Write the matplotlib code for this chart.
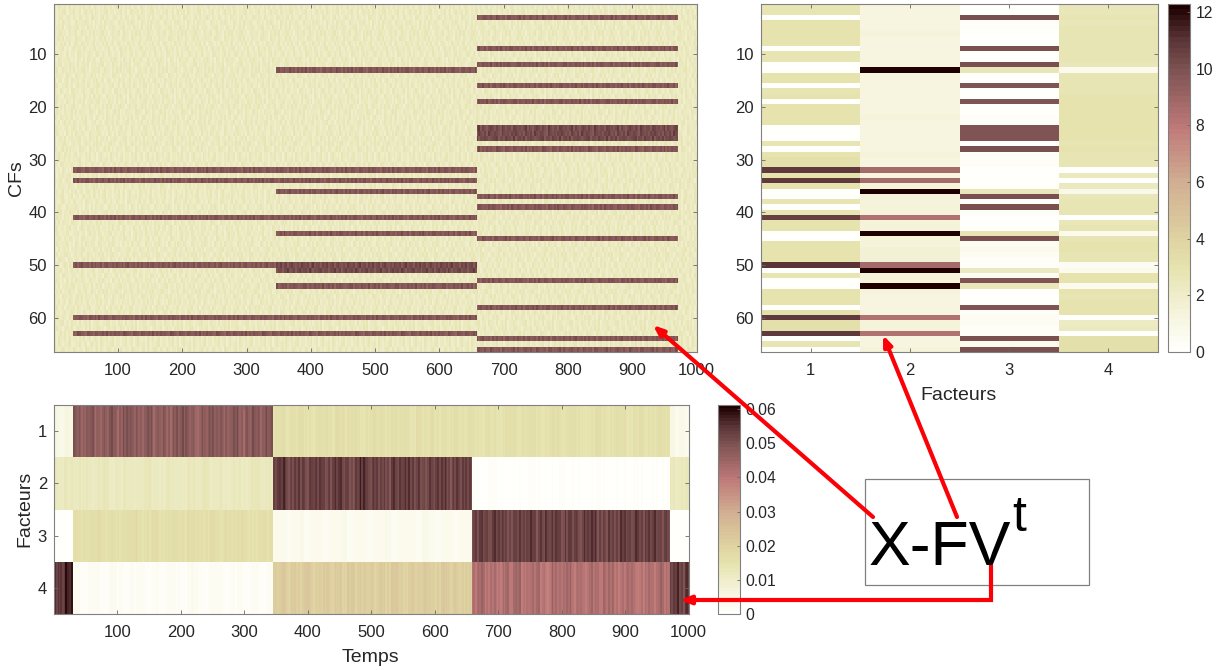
import numpy as np
import matplotlib
matplotlib.use("Agg")
import matplotlib.pyplot as plt
from matplotlib.colors import LinearSegmentedColormap
from matplotlib.patches import Rectangle

plt.rcParams['font.family'] = ['Liberation Sans', 'DejaVu Sans']

W, H = 1224, 670

# factor loadings F (one value per CF, rows 1..66)
factor_1 = [2.8,2.8,0,2.9,2.9,2.9,2.9,3.0,0.05,2.8,2.8,0,0,2.9,2.9,0,2.8,2.9,0,2.9,2.9,2.9,2.9,0,0,0,2.7,0,3.0,3.1,3.1,10.9,2.9,
            10.9,2.9,0,0,2.7,0,2.8,10.7,3.0,3.0,0,0,3.0,3.0,3.0,3.0,11.0,0,2.7,0,0,3.0,3.0,3.0,0,3.1,10.9,3.1,3.1,10.8,0,2.7,0]
factor_2 = [1.2,1.2,1.3,1.3,1.2,1.4,1.2,1.3,1.3,1.2,1.3,1.3,12.3,1.3,1.2,1.3,1.3,1.2,1.3,1.2,1.3,1.4,1.2,1.3,1.2,1.2,1.3,1.3,1.4,1.2,1.2,8.8,1.3,
            8.8,1.4,12.3,1.5,1.5,1.4,1.5,8.3,1.5,1.5,12.3,1.5,1.5,1.6,1.6,1.6,8.8,12.3,1.4,1.5,12.3,1.5,1.3,1.3,1.2,1.2,8.3,1.5,1.5,8.3,1.3,1.2,1.4]
factor_3 = [0,0,10.1,0.2,0.3,0,0,0,10.1,0.1,0.1,10.0,2.6,0.1,0.1,9.8,0,0.1,9.9,0.1,0.1,0.2,0.2,9.9,9.9,9.9,0.1,10.0,0.2,0.3,0.3,0,0.1,
            0,0.1,2.6,10.1,0.3,10.0,0.2,0.1,0.1,0.1,2.7,10.1,0.4,0.7,0.4,0.3,0.2,2.4,0.5,9.8,2.6,0.1,0,0,9.9,0.3,0.4,0.4,0.3,0.3,10.0,0.6,10.0]
factor_4 = [2.6,2.6,2.7,2.6,2.7,2.7,2.8,2.7,2.7,2.8,2.7,2.6,0.7,2.8,2.8,2.7,2.8,2.9,2.9,3.0,2.9,2.9,2.9,2.9,2.9,3.0,2.8,2.9,2.8,2.7,2.7,0,2.4,
            0,2.4,0.8,2.6,2.7,2.7,2.8,0,2.6,2.7,0.7,2.8,2.9,2.9,2.8,2.8,0.4,0.6,2.9,3.0,0.7,2.9,2.8,2.9,2.9,2.9,0,2.3,2.4,0,3.1,3.2,3.1]

# time activations V, in thousandths; 4 + 28 + 32 + 32 + 4 stripes per factor
time_1 = [5,3,7,5,
          48,45,50,43,47,49,44,52,47,46,50,45,48,44,49,51,46,42,47,50,48,45,52,44,47,49,46,50,
          15,17,14,16,18,15,13,17,16,14,18,15,17,16,13,15,18,16,14,17,15,16,13,18,15,17,14,16,15,18,14,16,
          16,14,17,15,13,16,18,14,15,17,16,13,15,18,14,16,17,15,13,16,18,15,14,17,16,13,15,17,14,16,18,15,
          7,3,5,2]
time_2 = [12,11,13,12,
          12,13,11,12,14,10,12,13,11,12,14,12,10,13,12,11,13,12,14,11,12,10,13,12,11,14,12,13,
          52,58,49,51,54,50,53,55,49,52,56,51,48,53,60,50,54,52,49,55,51,57,50,53,48,54,52,56,49,53,51,54,
          1,0,1,2,1,0,1,1,0,2,1,1,0,1,2,0,1,1,0,1,2,1,0,1,1,0,2,1,0,1,1,1,
          13,11,12,13]
time_3 = [0,1,0,1,
          16,15,17,18,15,16,14,17,19,15,16,18,14,16,17,15,18,16,15,19,14,17,16,18,15,14,17,16,
          3,4,2,3,5,2,3,4,2,3,3,5,2,4,3,2,4,3,5,2,3,3,4,2,5,3,2,4,3,2,4,3,
          52,54,50,53,55,51,49,54,52,56,50,53,51,55,49,53,52,50,54,56,51,49,53,52,55,50,54,51,53,56,49,52,
          1,0,0,1]
time_4 = [54,50,57,60,
          2,1,3,2,1,4,2,1,2,3,1,2,1,3,2,1,4,2,1,2,3,1,2,2,1,3,1,2,
          21,24,19,22,20,25,19,21,23,20,22,19,24,20,22,21,19,23,20,25,21,19,22,20,23,21,19,24,20,22,19,21,
          41,46,39,43,37,44,40,47,38,42,45,39,36,44,41,47,39,43,37,45,40,42,46,38,41,44,39,36,43,40,46,41,
          52,57,50,55]

# fine striping of the time courses, percent around the local level
fine_stripes = [2,-3,4,-1,3,-5,1,4,-2,-4,6,1,-2,3,-4,2,-1,5,-3,-1,4,-5,2,3,-3,1,4,-2,-4,2,6,-2,1,-4,3,-1,3,-5,2,-3,4,0,-3,4,-2,1,-4]

# time-frequency matrix X: rows active in each of the five time segments
x_active_rows = [[],
                 [32, 34, 41, 50, 60, 63],
                 [13, 32, 34, 36, 41, 44, 50, 51, 54, 60, 63],
                 [3, 9, 12, 16, 19, 24, 25, 26, 28, 37, 39, 45, 53, 58, 64, 66],
                 []]
x_darker_rows = [[], [], [50, 51], [24, 25, 26], []]
x_background = 0.19
x_active = 0.79
x_darker = 0.83
# grain of the matrix X, hundredths of the colour range
x_grain = [
    [ 1,-2, 3, 0,-1, 2,-3, 1, 4,-2, 0, 1,-3, 2,-1, 3,-2, 0, 2,-4, 1, 3,-1,-2],
    [-3, 1, 0, 4,-2,-1, 2,-4, 1, 3,-1, 0, 2,-2, 4, 0,-3, 1,-1, 2, 3,-2, 0, 1],
    [ 2,-1,-3, 1, 3, 0,-2, 2,-1,-3, 4, 1,-2, 0, 1,-4, 3, 2,-1, 0,-2, 1, 4,-3],
    [ 0, 3, 1,-2, 0,-4, 3, 1,-2, 2,-3, 4, 0,-1, 2, 1,-2,-3, 3, 1,-1, 0,-2, 2],
    [-1, 0, 2, 3,-3, 1, 0,-2, 3, 0, 1,-2, 4,-3, 0, 2,-1, 3,-4, 1, 0, 2, 1,-2],
    [ 4,-3, 1,-1, 2, 3,-1, 0,-4, 1, 2,-1, 0, 3,-2,-1, 4, 0, 1,-3, 2,-1, 3, 0],
    [-2, 2, 0, 1,-1,-3, 4, 2, 0,-1,-4, 3, 1, 0,-3, 2, 1,-2, 0, 3,-1, 4,-3, 1]]
x_grain_shift = [0, 7, 3, 15, 9, 20, 5, 12, 1, 18, 6, 22, 10]

cf_ticks = [10, 20, 30, 40, 50, 60]
time_ticks = [100, 200, 300, 400, 500, 600, 700, 800, 900, 1000]
factor_ticks = [1, 2, 3, 4]
factor_cbar_ticks = [0, 2, 4, 6, 8, 10, 12]
time_cbar_ticks = [0, 0.01, 0.02, 0.03, 0.04, 0.05, 0.06]
time_cbar_labels = ['0', '0.01', '0.02', '0.03', '0.04', '0.05', '0.06']

segment_edges = [0.5, 30.5, 345.5, 658.5, 970.5, 1000.5]
segment_stripes = [4, 28, 32, 32, 4]

F = np.array([factor_1, factor_2, factor_3, factor_4]).T
V_coarse = np.array([time_1, time_2, time_3, time_4]) / 1000.0

t_edges = np.arange(0.5, 1001)
t = np.arange(1, 1001)
coarse_edges = np.concatenate([np.linspace(a, b, n + 1)[:-1] for a, b, n in
                               zip(segment_edges[:-1], segment_edges[1:], segment_stripes)] + [[1000.5]])
coarse_idx = np.clip(np.searchsorted(coarse_edges, t) - 1, 0, V_coarse.shape[1] - 1)
segment_idx = np.clip(np.searchsorted(segment_edges, t) - 1, 0, 4)
fine = np.array(fine_stripes) / 100.0

V = np.zeros((4, 1000))
seg_of_coarse = np.repeat(np.arange(5), segment_stripes)
for k in range(4):
    seg_mean = np.array([V_coarse[k][seg_of_coarse == s].mean() for s in range(5)])
    level = seg_mean[segment_idx] + 0.45 * (V_coarse[k][coarse_idx] - seg_mean[segment_idx])
    V[k] = level * (1 + fine[((t - 1) // 3 + 17 * k) % len(fine)])

X = np.full((66, 1000), x_background)
is_active = np.zeros((66, 1000), dtype=bool)
for s in range(5):
    mask = segment_idx == s
    for r in x_active_rows[s]:
        X[r - 1, mask] = x_darker if r in x_darker_rows[s] else x_active
        is_active[r - 1, mask] = True
grain = np.array(x_grain) / 100.0
gr = grain[np.ix_(np.arange(66) % 7, np.arange(334) % 24)]
gr = np.array([np.roll(gr[r], x_grain_shift[r % len(x_grain_shift)]) for r in range(66)])[:, (t - 1) // 3]
X = X + gr * np.where(is_active, 1.2, 1.0)

cmap = LinearSegmentedColormap.from_list('cfs', [
    (0.0, (1.0, 1.0, 0.985)),
    (0.10, (0.965, 0.96, 0.87)),
    (0.24, (0.90, 0.89, 0.68)),
    (0.33, (0.87, 0.82, 0.63)),
    (0.49, (0.82, 0.68, 0.57)),
    (0.65, (0.745, 0.47, 0.47)),
    (0.81, (0.50, 0.33, 0.33)),
    (0.90, (0.36, 0.21, 0.22)),
    (1.0, (0.12, 0.0, 0.0))], N=64)

fig = plt.figure(figsize=(W / 100, H / 100), dpi=100)
GRAY = '#808080'
TXT = '#262626'
FS = 12
LS = 14

def axes_px(x0, y0, x1, y1):
    return fig.add_axes([x0 / W, 1 - y1 / H, (x1 - x0) / W, (y1 - y0) / H])

def style(ax):
    for s in ax.spines.values():
        s.set_color(GRAY)
        s.set_linewidth(0.8)
    ax.tick_params(direction='in', top=True, right=True, length=3, width=0.6, color='#666666',
                   labelsize=FS, labelcolor=TXT)
    ax.tick_params(axis='x', pad=8)
    ax.tick_params(axis='y', pad=5)

# X matrix
ax1 = axes_px(54, 4, 697, 352)
ax1.pcolormesh(t_edges, np.arange(0.5, 67), X, cmap=cmap, vmin=0, vmax=1, rasterized=True)
ax1.set_ylim(66.5, 0.5)
ax1.set_xlim(0.5, 1000.5)
ax1.set_xticks(time_ticks)
ax1.set_yticks(cf_ticks)
style(ax1)
ax1.set_ylabel('CFs', fontsize=LS, color=TXT, va='center')
ax1.yaxis.set_label_coords((16 - 54) / 643, 1 - (178 - 4) / 348)

# F matrix
ax2 = axes_px(761, 4, 1158, 352)
m2 = ax2.pcolormesh(np.arange(0.5, 5), np.arange(0.5, 67), F, cmap=cmap, vmin=0, vmax=12.28, rasterized=True)
ax2.set_ylim(66.5, 0.5)
ax2.set_xticks(factor_ticks)
ax2.set_yticks(cf_ticks)
style(ax2)
ax2.set_xlabel('Facteurs', fontsize=LS, color=TXT, va='center')
ax2.xaxis.set_label_coords((959 - 761) / 397, -(395 - 352) / 348)

cax2 = axes_px(1168, 4, 1190, 352)
cb2 = fig.colorbar(m2, cax=cax2)
cb2.set_ticks(factor_cbar_ticks)

# V matrix
ax3 = axes_px(54, 405, 689, 614)
m3 = ax3.pcolormesh(t_edges, np.arange(0.5, 5), V, cmap=cmap, vmin=0, vmax=0.0612, rasterized=True)
ax3.set_ylim(4.5, 0.5)
ax3.set_xlim(0.5, 1000.5)
ax3.set_xticks(time_ticks)
ax3.set_yticks(factor_ticks)
style(ax3)
ax3.set_xlabel('Temps', fontsize=LS, color=TXT, va='center')
ax3.xaxis.set_label_coords((370 - 54) / 635, -(657 - 614) / 209)
ax3.set_ylabel('Facteurs', fontsize=LS, color=TXT, va='center')
ax3.yaxis.set_label_coords((25 - 54) / 635, 1 - (509 - 405) / 209)

cax3 = axes_px(718, 405, 740, 614)
cb3 = fig.colorbar(m3, cax=cax3)
cb3.set_ticks(time_cbar_ticks, labels=time_cbar_labels)

for cb in (cb2, cb3):
    cb.outline.set_edgecolor(GRAY)
    cb.outline.set_linewidth(0.8)
    cb.ax.tick_params(direction='in', right=True, length=2.5, width=0.6, color='#666666',
                      labelsize=11.3, labelcolor=TXT, pad=4)

# overlay in pixel coordinates
ov = fig.add_axes([0, 0, 1, 1])
ov.set_xlim(0, W)
ov.set_ylim(H, 0)
ov.axis('off')
ov.patch.set_alpha(0)
ov.add_patch(Rectangle((864.5, 478.5), 224.5, 106.5, fill=False, edgecolor=GRAY, linewidth=0.9))
ov.text(869, 565, 'X-FV', fontsize=45, color='black', va='baseline', ha='left')
ov.text(1012, 531, 't', fontsize=36, color='black', va='baseline', ha='left')

RED = '#fb0007'
arrow_kw = dict(arrowstyle='-|>,head_length=0.55,head_width=0.22', color=RED, lw=3.0,
                shrinkA=0, shrinkB=0, mutation_scale=11)
ov.annotate('', xy=(653, 325), xytext=(873, 517), arrowprops=arrow_kw)
ov.annotate('', xy=(883, 335), xytext=(957, 517), arrowprops=arrow_kw)
ov.plot([991, 991, 800], [565, 600, 600], color=RED, lw=3.0, solid_joinstyle='miter', solid_capstyle='butt')
ov.annotate('', xy=(680, 600), xytext=(800, 600), arrowprops=arrow_kw)

fig.savefig('out.png', dpi=100, facecolor='white')
